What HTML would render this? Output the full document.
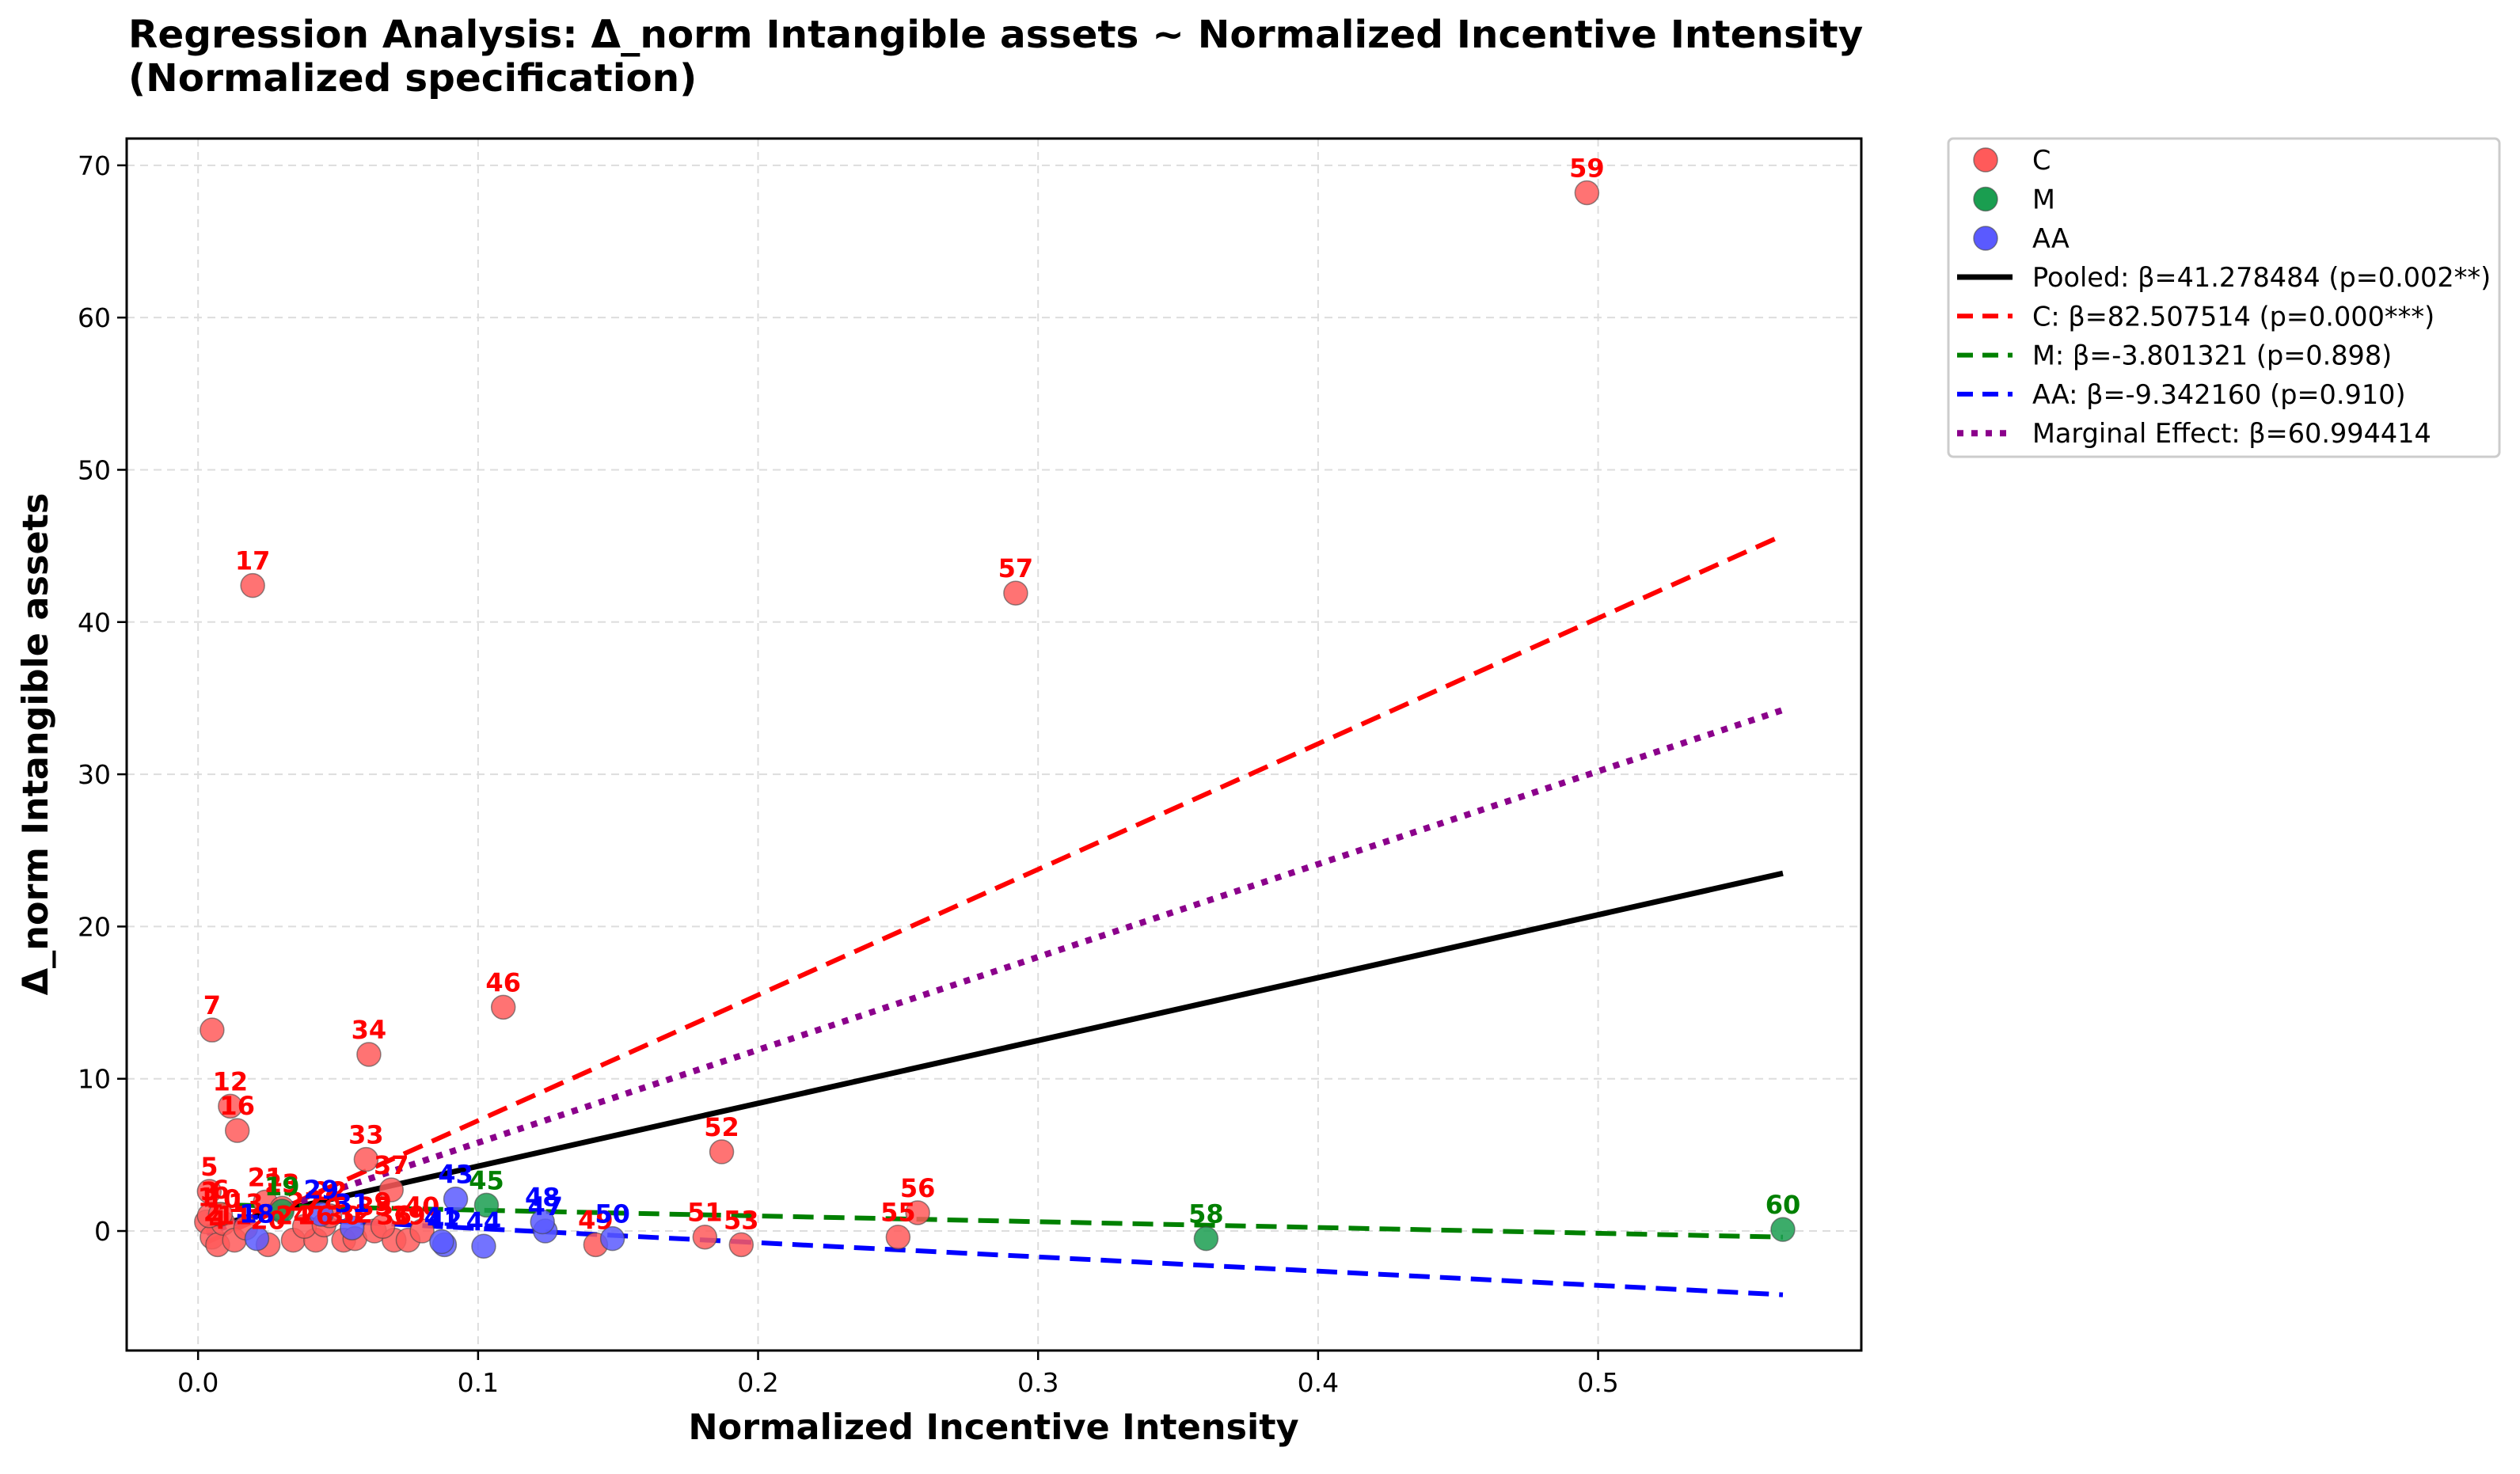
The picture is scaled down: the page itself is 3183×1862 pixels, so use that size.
<!DOCTYPE html>
<html><head><meta charset="utf-8">
<style>
html,body{margin:0;padding:0;background:#fff;}
svg{display:block;font-family:"DejaVu Sans","Liberation Sans",sans-serif;}
</style></head>
<body>
<svg id="chart" width="3183" height="1862" viewBox="0 0 3183 1862">
<g>
<text x="162" y="60" font-size="48.5" font-weight="bold" fill="#000">Regression Analysis: Δ_norm Intangible assets ~ Normalized Incentive Intensity</text>
<text x="162" y="115" font-size="48.5" font-weight="bold" fill="#000">(Normalized specification)</text>
</g>
<g id="grid"></g>
<g id="lines"></g>
<g id="points"></g>
<g id="labels"></g>
<rect x="160" y="175" width="2191" height="1531" fill="none" stroke="#000" stroke-width="3"/>
<g id="axes"></g>
<text x="1255" y="1818" font-size="44.5" font-weight="bold" text-anchor="middle">Normalized Incentive Intensity</text>
<text transform="translate(60,940) rotate(-90)" font-size="44.5" font-weight="bold" text-anchor="middle">Δ_norm Intangible assets</text>
<g id="legend">
<rect x="2461" y="175" width="696" height="402" rx="6" fill="#fff" stroke="#ccc" stroke-width="3"/>
</g>
</svg>
<script>
const groups = ['C','M','AA'];
const groupColors = ['#ff5a5a','#1a9e50','#5a5aff'];
const labelColors = ['#ff0000','#008000','#0000ff'];
const pointGroups = ['C','C','C','C','C','C','C','C','C','C','C','C','C','C','C','C','C','C','C','C','C','C','C','C','C','C','C','C','C','C','C','C','C','C','C','C','C','C','C','C','M','M','M','M','AA','AA','AA','AA','AA','AA','AA','AA','AA','AA'];
const pointX = [0.496,0.292,0.0195,0.109,0.061,0.005,0.0115,0.014,0.060,0.187,0.069,0.257,0.250,0.181,0.194,0.142,0.004,0.003,0.005,0.007,0.009,0.013,0.025,0.034,0.042,0.052,0.056,0.063,0.070,0.075,0.080,0.024,0.030,0.038,0.045,0.004,0.008,0.017,0.047,0.066,0.360,0.566,0.103,0.030,0.092,0.102,0.124,0.123,0.148,0.088,0.044,0.021,0.087,0.055];
const pointY = [68.2,41.9,42.4,14.7,11.6,13.2,8.2,6.6,4.7,5.2,2.7,1.2,-0.4,-0.4,-0.9,-0.9,2.6,0.6,-0.4,-0.9,0.5,-0.6,-0.9,-0.6,-0.6,-0.6,-0.5,0.0,-0.6,-0.6,0.0,1.9,1.5,0.3,0.4,1.0,1.1,0.2,1.0,0.3,-0.5,0.1,1.7,1.3,2.1,-1.0,0.0,0.6,-0.5,-0.9,1.1,-0.5,-0.7,0.2];
const pointIds = ['59','57','17','46','34','7','12','16','33','52','37','56','55','51','53','49','5','1','2','4','10','11','20','24','26','30','32','35','36','39','40','21','23','27','28','3','6','13','22','9','58','60','45','19','43','44','47','48','50','42','29','18','41','31'];
const lineNames = ['Pooled','C','M','AA','Marginal'];
const lineSlopes = [41.278484,82.507514,-3.801321,-9.342160,60.994414];
const lineIntercepts = [0.13,-1.0,1.75,1.1,-0.3];
const lineColors = ['#000000','#ff0000','#008000','#0000ff','#8b008b'];
const lineDash = ['', '26 13','26 13','26 13','8 10'];
const lineWidths = [7,6,6,6,8];
const lineX0 = [0.003,0.003,0.003,0.003,0.003];
const lineX1 = [0.566,0.566,0.566,0.566,0.566];
const legendText = ['Pooled: β=41.278484 (p=0.002**)','C: β=82.507514 (p=0.000***)','M: β=-3.801321 (p=0.898)','AA: β=-9.342160 (p=0.910)','Marginal Effect: β=60.994414'];
const xTicks = [0.0,0.1,0.2,0.3,0.4,0.5];
const xTickLabels = ['0.0','0.1','0.2','0.3','0.4','0.5'];
const yTicks = [0,10,20,30,40,50,60,70];

const NS='http://www.w3.org/2000/svg';
const L=160,R=2351,T=175,B=1706;
const xMin=-0.0255,xMax=0.594,yMin=-7.85,yMax=71.76;
function sx(v){return L+(v-xMin)/(xMax-xMin)*(R-L);}
function sy(v){return B-(v-yMin)/(yMax-yMin)*(B-T);}
function mk(tag,attrs,parent){const e=document.createElementNS(NS,tag);for(const k in attrs)e.setAttribute(k,attrs[k]);parent.appendChild(e);return e;}
const grid=document.getElementById('grid'),axes=document.getElementById('axes');
xTicks.forEach((t,i)=>{
  const g=mk('line',{x1:sx(t),x2:sx(t),y1:T,y2:B,stroke:'#ddd','stroke-width':2,'stroke-dasharray':'10 7'},grid);
  
  
  const tk=mk('line',{x1:sx(t),x2:sx(t),y1:B,y2:B+12,stroke:'#000','stroke-width':2.5},axes);
  
  
  const tx=mk('text',{x:sx(t),y:B+52,'font-size':33,'text-anchor':'middle',fill:'#000'},axes);
  tx.textContent=xTickLabels[i];
  
  
});
yTicks.forEach(t=>{
  const g=mk('line',{x1:L,x2:R,y1:sy(t),y2:sy(t),stroke:'#ddd','stroke-width':2,'stroke-dasharray':'10 7'},grid);
  
  
  const tk=mk('line',{x1:L-12,x2:L,y1:sy(t),y2:sy(t),stroke:'#000','stroke-width':2.5},axes);
  
  
  const tx=mk('text',{x:L-20,y:sy(t)+12,'font-size':33,'text-anchor':'end',fill:'#000'},axes);
  tx.textContent=String(t);
  
  
});
const pts=document.getElementById('points'),labs=document.getElementById('labels');
pointX.forEach((x,i)=>{
  const gi=groups.indexOf(pointGroups[i]);
  const c=mk('circle',{cx:sx(x),cy:sy(pointY[i]),r:15,fill:groupColors[gi],'fill-opacity':0.85,stroke:'#444','stroke-width':1.5,'stroke-opacity':0.6},pts);
  
  
  const t=mk('text',{x:sx(x),y:sy(pointY[i])-20,'font-size':32,'font-weight':'bold','text-anchor':'middle',fill:labelColors[gi]},labs);
  t.textContent=pointIds[i];
  
  
});
const lines=document.getElementById('lines');
lineNames.forEach((n,i)=>{
  const a={x1:sx(lineX0[i]),y1:sy(lineIntercepts[i]+lineSlopes[i]*lineX0[i]),x2:sx(lineX1[i]),y2:sy(lineIntercepts[i]+lineSlopes[i]*lineX1[i]),stroke:lineColors[i],'stroke-width':lineWidths[i]};
  if(lineDash[i])a['stroke-dasharray']=lineDash[i];
  const l=mk('line',a,lines);
  
  
});
const leg=document.getElementById('legend');
groups.forEach((g,i)=>{
  const y=202+i*49.5;
  const c=mk('circle',{cx:2508,cy:y,r:15,fill:groupColors[i],stroke:'#444','stroke-width':1.5,'stroke-opacity':0.6},leg);
  
  
  const t=mk('text',{x:2567,y:y+12,'font-size':33.5,fill:'#000'},leg);
  t.textContent=g;
  
  
});
lineNames.forEach((n,i)=>{
  const y=350+i*49.3;
  const a={x1:2472,x2:2542,y1:y,y2:y,stroke:lineColors[i],'stroke-width':lineWidths[i]};
  if(lineDash[i])a['stroke-dasharray']=lineDash[i]==='8 10'?'8 10':'20 12';
  const l=mk('line',a,leg);
  
  
  const t=mk('text',{x:2567,y:y+12,'font-size':33.5,fill:'#000'},leg);
  t.textContent=legendText[i];
  
  
});
</script>
</body></html>
